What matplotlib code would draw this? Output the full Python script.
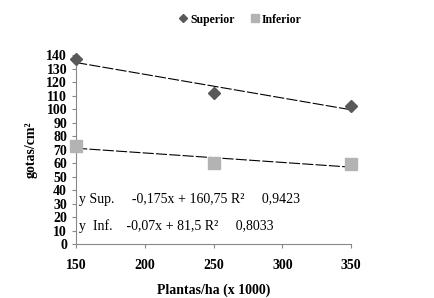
import numpy as np
import matplotlib.pyplot as plt

PLANTAS = [150, 250, 350]
SUPERIOR = [137, 112, 102]
INFERIOR = [73, 60, 59]
X_TICKS = [150, 200, 250, 300, 350]
Y_TICKS = list(range(0, 141, 10))


def main():
    plt.rcParams['font.family'] = ['Liberation Serif', 'DejaVu Serif']
    fig = plt.figure(figsize=(4.35, 2.98), dpi=100)
    ax = fig.add_axes([0.175, 0.181, 0.632, 0.634])

    ax.plot(PLANTAS, SUPERIOR, linestyle='none', marker='D', markersize=6,
            color='#595959', label='Superior', clip_on=False, zorder=3)
    ax.plot(PLANTAS, INFERIOR, linestyle='none', marker='s', markersize=8,
            color='#b3b3b3', label='Inferior', clip_on=False, zorder=3)

    xs = np.array([150, 350])
    for ys in (SUPERIOR, INFERIOR):
        a, b = np.polyfit(PLANTAS, ys, 1)
        ax.plot(xs, a * xs + b, color='black', linewidth=0.8,
                dashes=(10, 2), zorder=2)

    ax.text(152, 33, 'y Sup.     -0,175x + 160,75 R\u00b2     0,9423',
            fontsize=10, va='center')
    ax.text(152, 13, 'y  Inf.    -0,07x + 81,5 R\u00b2     0,8033',
            fontsize=10, va='center')

    ax.set_xlim(150, 350)
    ax.set_ylim(0, 140)
    ax.set_xticks(X_TICKS)
    ax.set_yticks(Y_TICKS)
    ax.tick_params(axis='both', labelsize=10, color='#888888', length=3)
    ax.tick_params(axis='x', pad=8)
    for lab in ax.get_xticklabels() + ax.get_yticklabels():
        lab.set_fontweight('bold')
    for s in ('top', 'right'):
        ax.spines[s].set_visible(False)
    for s in ('left', 'bottom'):
        ax.spines[s].set_color('#888888')

    ax.set_xlabel('Plantas/ha (x 1000)', fontsize=10, fontweight='bold', labelpad=8)
    ax.set_ylabel('gotas/cm\u00b2', fontsize=10, fontweight='bold', labelpad=6)

    fig.legend(loc='upper center', bbox_to_anchor=(0.55, 0.99), ncol=2,
               frameon=False, prop={'size': 8.5, 'weight': 'bold'},
               markerscale=0.65, handletextpad=0.1, columnspacing=1.2,
               handlelength=1)

    fig.savefig('out.png', dpi=100)


if __name__ == '__main__':
    main()
